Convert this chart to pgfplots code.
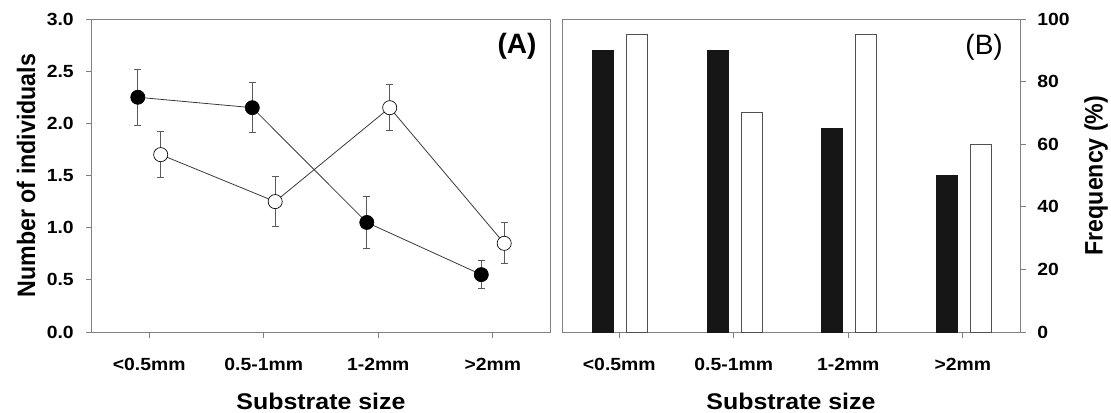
\documentclass[border=0pt]{standalone}
\usepackage{fontspec}
\setmainfont[FakeStretch=1.1]{Liberation Sans}
\newfontfamily\plainfont{Liberation Sans}
\usepackage{pgfplots}
\pgfplotsset{compat=1.18}

\definecolor{framegray}{HTML}{808080}
\definecolor{errgray}{HTML}{5A5A5A}
\definecolor{linegray}{HTML}{3A3A3A}
\definecolor{barblack}{HTML}{161616}
\definecolor{baredge}{HTML}{505050}

\begin{document}
\begin{tikzpicture}
\useasboundingbox (0,0) rectangle (833.25pt,309pt);
\pgfplotsset{
  common/.style={
    scale only axis, width=343.5pt, height=234.75pt,
    xmin=-0.5, xmax=3.5, xtick={0,1,2,3},
    xticklabels={<0.5mm,0.5-1mm,1-2mm,>2mm},
    axis line style={framegray, line width=0.75pt},
    tick style={framegray, line width=0.75pt},
    tick align=outside, major tick length=4.5pt,
    xtick pos=bottom,
    tick label style={font=\fontsize{13.2}{15}\selectfont\bfseries, text=black},
    xticklabel style={anchor=base, inner sep=0pt, yshift=-24pt},
    xlabel={Substrate size},
    xlabel style={font=\fontsize{17}{19}\selectfont\bfseries, at={(axis description cs:0.5,0)}, anchor=base, inner sep=0pt, yshift=-58pt},
  }
}
% Panel A
\begin{axis}[common, at={(69pt,60pt)}, anchor=south west,
  ymin=0, ymax=3, ytick={0,0.5,1,1.5,2,2.5,3},
  yticklabels={0.0,0.5,1.0,1.5,2.0,2.5,3.0},
  ytick pos=left,
  yticklabel style={anchor=east, inner sep=0pt, xshift=-9pt},
  ylabel={\scalebox{1}[1.2]{Number of individuals}},
  ylabel style={font=\fontsize{15.8}{18}\selectfont\bfseries, at={(axis description cs:-0.144,0.5)}, anchor=center, inner sep=0pt},
  clip=false]
\addplot[linegray, line width=0.6pt, mark=*, mark size=5.3pt,
  mark options={fill=black, draw=black, line width=0.5pt},
  error bars/.cd, y dir=both, y explicit,
  error bar style={errgray, line width=0.7pt},
  error mark options={rotate=90, mark size=2.5pt, errgray, line width=0.7pt}]
coordinates {
 (-0.1,2.25) +- (0,0.27)
 (0.9,2.15) +- (0,0.24)
 (1.9,1.05) +- (0,0.25)
 (2.9,0.55) +- (0,0.135)
};
\addplot[linegray, line width=0.6pt, mark=*, mark size=5.3pt,
  mark options={fill=white, draw=black, line width=0.5pt},
  error bars/.cd, y dir=both, y explicit,
  error bar style={errgray, line width=0.7pt},
  error mark options={rotate=90, mark size=2.5pt, errgray, line width=0.7pt}]
coordinates {
 (0.1,1.70) +- (0,0.22)
 (1.1,1.25) +- (0,0.24)
 (2.1,2.15) +- (0,0.22)
 (3.1,0.85) +- (0,0.197)
};
\node[anchor=east, inner sep=0pt, font=\plainfont\fontsize{21}{24}\selectfont\bfseries] at (axis description cs:0.971,0.9115) {(A)};
\end{axis}
% Panel B
\begin{axis}[common, at={(421.5pt,60pt)}, anchor=south west,
  ymin=0, ymax=100, ytick={0,20,40,60,80,100},
  yticklabels={0,20,40,60,80,100},
  ytick pos=right, yticklabel pos=right,
  yticklabel style={anchor=west, inner sep=0pt, xshift=8.25pt},
  ylabel={\scalebox{1}[1.2]{Frequency (\%)}},
  ylabel style={font=\fontsize{15.8}{18}\selectfont\bfseries, at={(axis description cs:1.166,0.5)}, anchor=center, inner sep=0pt, rotate=0},
  clip=false]
\addplot[ybar, bar width=15.75pt, bar shift=-12pt, fill=barblack, draw=barblack, line width=0.5pt]
coordinates {(0,90) (1,90) (2,65) (3,50)};
\addplot[ybar, bar width=15.75pt, bar shift=13.5pt, fill=white, draw=baredge, line width=0.7pt]
coordinates {(0,95) (1,70) (2,95) (3,60)};
\node[anchor=east, inner sep=0pt, font=\plainfont\fontsize{21}{24}\selectfont] at (axis description cs:0.963,0.91) {(B)};
\end{axis}
\end{tikzpicture}
\end{document}
